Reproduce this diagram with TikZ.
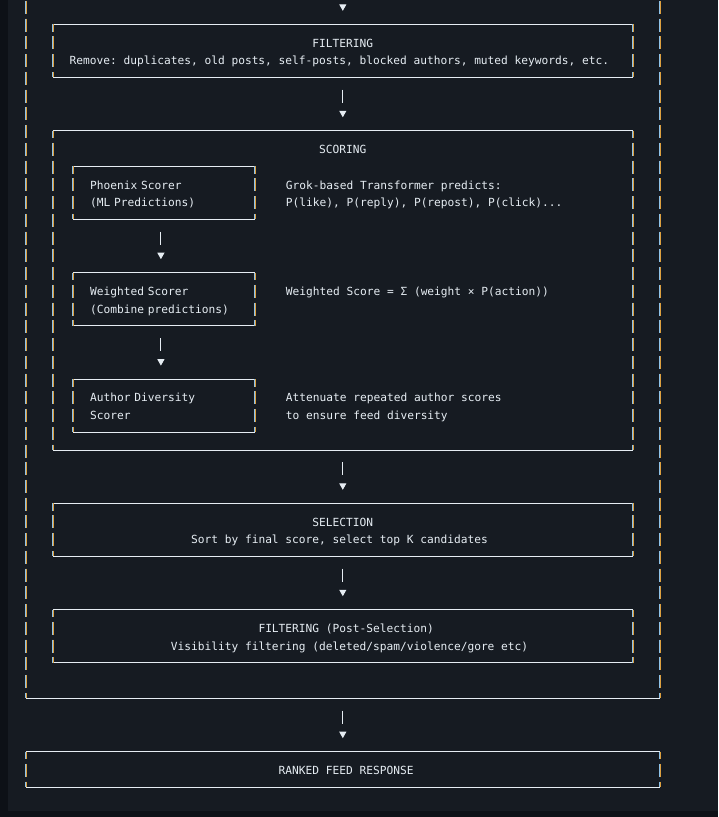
\documentclass[tikz,border=0pt]{standalone}
\usepackage{fontspec}
\usepackage{xcolor}
\setmonofont{DejaVu Sans Mono}
\usetikzlibrary{arrows.meta,positioning}
\definecolor{termbg}{HTML}{161B22}
\definecolor{termedge}{HTML}{0D1117}
\definecolor{termink}{HTML}{E6EDF3}
\definecolor{fringeblue}{HTML}{8EC2E8}
\definecolor{fringeorange}{HTML}{DDA03F}
\tikzset{
  termText/.style={text=termink, font=\ttfamily\fontsize{11.2pt}{17.74pt}\selectfont, inner sep=0pt, outer sep=0pt},
  stageBox/.style={termText, minimum width=579.6pt, minimum height=53.22pt, align=center},
  scorerBox/.style={termText, text width=148.2pt, inner xsep=17pt, minimum height=53.22pt, align=left},
  noteText/.style={termText, align=left},
  hLine/.style={draw=termink, line width=1pt},
  vLine/.style={line width=1pt, dash pattern=on 13pt off 4.74pt, dash phase=5.5pt},
  flowArrow/.style={draw=termink, line width=1pt, shorten <=12.2pt, shorten >=13.4pt,
    dash pattern=on 13pt off 40pt, -{Triangle[length=6.5pt,width=7pt]}}
}
% two text rows sitting on the character grid
\newcommand{\twolines}[2]{\rule{0pt}{13.2pt}#1\\#2\rule[-3pt]{0pt}{3pt}}
\newcommand{\halfcol}{\hspace*{6.74pt}}
% box drawn with box-drawing characters: solid top/bottom, broken sides
\newcommand{\asciiframe}[1]{%
  \draw[hLine] (#1.north west) -- (#1.north east) (#1.south west) -- (#1.south east);
  \foreach \side in {west,east} {
    \draw[vLine, draw=fringeblue] ([xshift=-0.5pt]#1.north \side) -- ([xshift=-0.5pt]#1.south \side);
    \draw[vLine, draw=fringeorange] ([xshift=0.5pt]#1.north \side) -- ([xshift=0.5pt]#1.south \side);
  }%
}
\begin{document}
\begin{tikzpicture}[x=1pt, y=1pt]
  \useasboundingbox (0,0) rectangle (718,-817);
  \fill[termedge] (0,0) rectangle (718,-817);
  \fill[termbg] (8,0) rectangle (718,-810.7);
  \clip (0,0) rectangle (718,-817);

  \coordinate (feedtop) at (342.8,28.98);
  \node[stageBox] (filter) at (342.8,-50.85) {\twolines{FILTERING}{Remove: duplicates, old posts, self-posts, blocked authors, muted keywords, etc.\halfcol}};
  \node[stageBox, minimum height=319.32pt, below=53.22pt of filter] (scoring) {};
  \node[termText] (scoretitle) at ([yshift=-18.74pt]scoring.north) {SCORING};
  \node[scorerBox, anchor=north west] (phoenix) at ([shift={(20.2pt,-35.48pt)}]scoring.north west) {\twolines{Phoenix Scorer}{(ML Predictions)}};
  \node[scorerBox, below=53.22pt of phoenix] (weighted) {\twolines{Weighted Scorer}{(Combine predictions)}};
  \node[scorerBox, below=53.22pt of weighted] (author) {\twolines{Author Diversity}{Scorer}};
  \node[noteText, right=30.5pt of phoenix] (phoenixnote) {\twolines{Grok-based Transformer predicts:}{P(like), P(reply), P(repost), P(click)...}};
  \node[noteText, anchor=base west] (weightednote) at ([shift={(30.5pt,-22.84pt)}]weighted.north east) {Weighted Score = Σ (weight × P(action))};
  \node[noteText, right=30.5pt of author] (authornote) {\twolines{Attenuate repeated author scores}{to ensure feed diversity}};
  \node[stageBox, below=53.22pt of scoring] (selection) {\twolines{SELECTION}{Sort by final score, select top K candidates\halfcol}};
  \node[stageBox, below=53.22pt of selection] (postfilter) {\twolines{\halfcol FILTERING (Post-Selection)}{\halfcol\halfcol Visibility filtering (deleted/spam/violence/gore etc)}};
  \coordinate (outerbottom) at ([yshift=-35.48pt]postfilter.south);
  \node[stageBox, minimum width=633.6pt, minimum height=35.48pt, below=53.22pt of outerbottom] (ranked) {\halfcol\rule{0pt}{10.2pt}RANKED FEED RESPONSE};

  % outer frame, its top is off the page
  \draw[hLine] (26,-698.4) -- (659.6,-698.4);
  \foreach \x in {26,659.6} {
    \draw[vLine, draw=fringeblue] (\x-0.5,11.24) -- (\x-0.5,-698.4);
    \draw[vLine, draw=fringeorange] (\x+0.5,11.24) -- (\x+0.5,-698.4);
  }

  \foreach \b in {filter,scoring,phoenix,weighted,author,selection,postfilter,ranked} {\asciiframe{\b}}

  \foreach \a/\b in {feedtop/filter,filter/scoring,scoring/selection,selection/postfilter,outerbottom/ranked} \draw[flowArrow] (\a) -- (\b);
  \draw[flowArrow] ([xshift=-3.4pt]phoenix.south) -- ([xshift=-3.4pt]weighted.north);
  \draw[flowArrow] ([xshift=-3.4pt]weighted.south) -- ([xshift=-3.4pt]author.north);
\end{tikzpicture}
\end{document}
